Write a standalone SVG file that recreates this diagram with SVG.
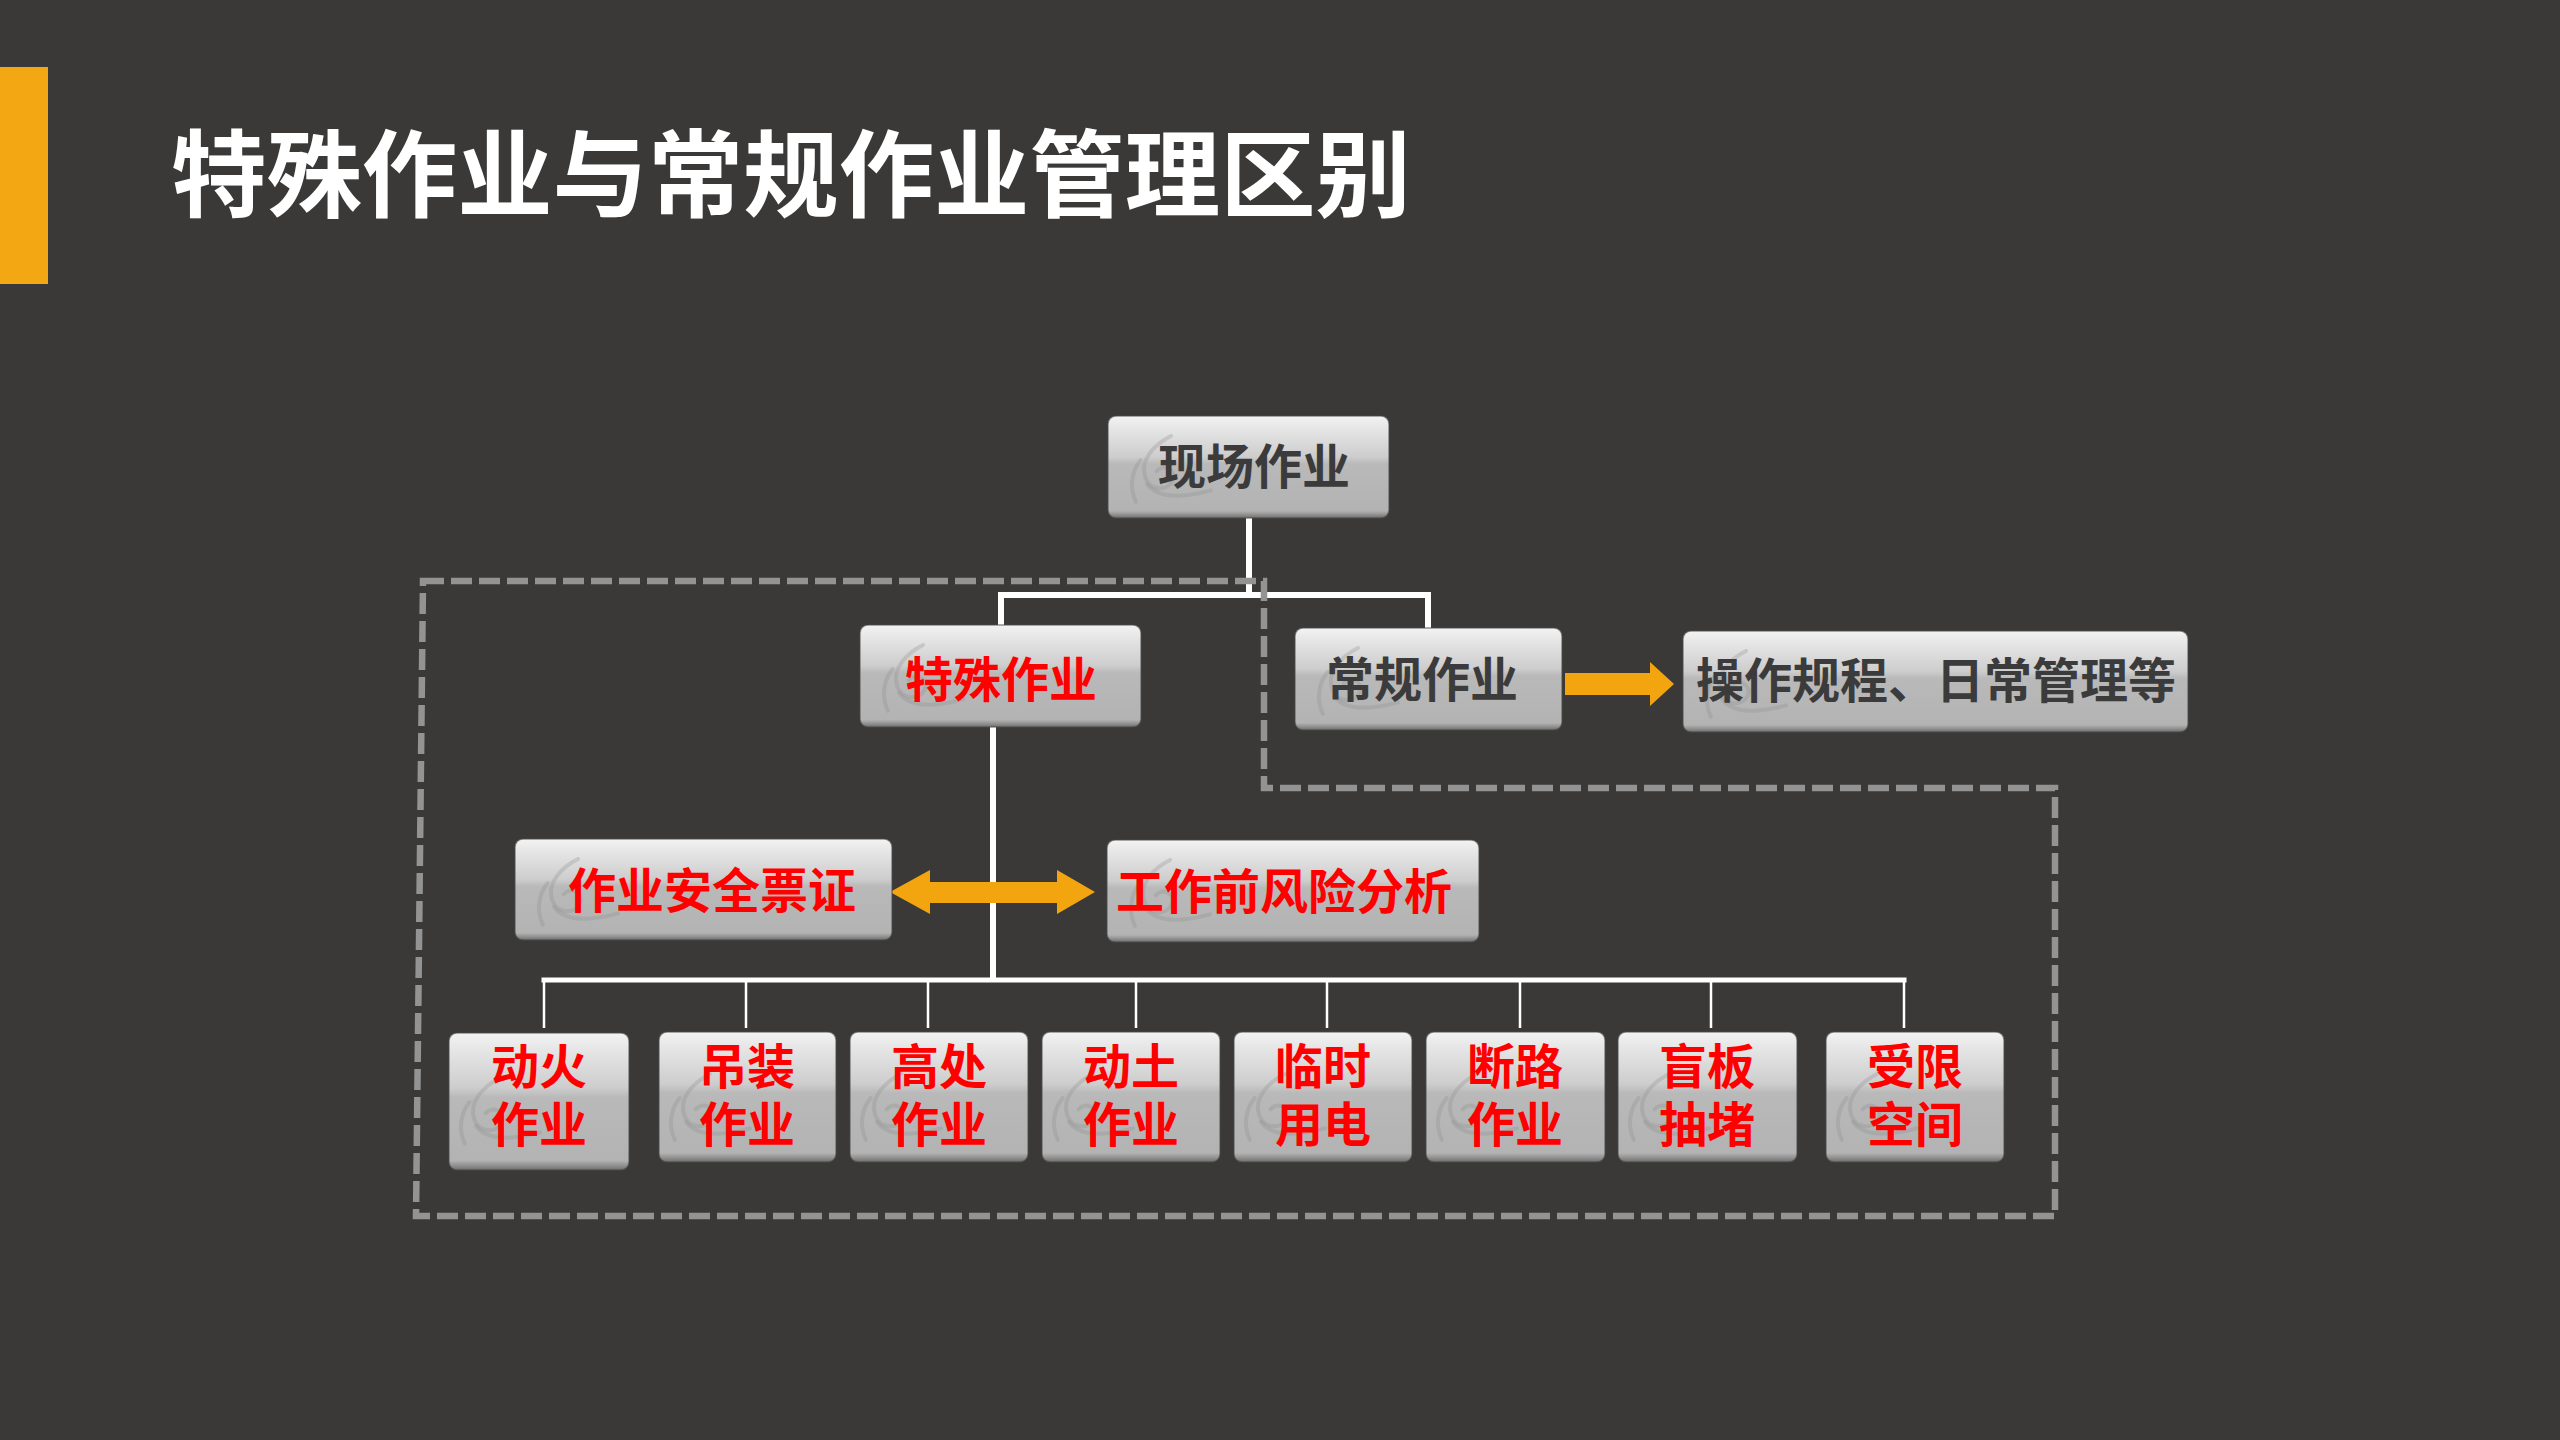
<svg xmlns="http://www.w3.org/2000/svg" width="2560" height="1440" viewBox="0 0 2560 1440">
<style>
.box{fill:url(#boxg);stroke:#4a4a4a;stroke-width:1.5;stroke-opacity:0.6}
.t{font-family:"Noto Sans CJK SC","Noto Sans",sans-serif;font-weight:700;font-size:48px;text-anchor:middle}
.dk{fill:#3b3b3b}
.rd{fill:#ff0000}
.wl{fill:none;stroke:#ffffff;stroke-linejoin:miter}
.arr{fill:#f3a50f}
.sw{fill:none;stroke:#8e8e8e;stroke-opacity:0.3;stroke-width:5;stroke-linecap:round}
</style>
<defs>
<linearGradient id="boxg" x1="0" y1="0" x2="0" y2="1">
<stop offset="0" stop-color="#f3f3f3"/>
<stop offset="0.1" stop-color="#e8e8e8"/>
<stop offset="0.4" stop-color="#cdcdcd"/>
<stop offset="0.47" stop-color="#b9b9b9"/>
<stop offset="0.93" stop-color="#b3b3b3"/>
<stop offset="0.97" stop-color="#8e8e8e"/>
<stop offset="1" stop-color="#6e6e6e"/>
</linearGradient>
<symbol id="swirl" viewBox="0 0 100 100" overflow="visible">
<path class="sw" d="M60,10 C40,20 20,40 28,62 C34,78 55,80 62,66 C68,52 50,44 42,54"/>
<path class="sw" d="M30,70 C45,90 80,86 110,78"/>
<path class="sw" d="M22,40 C10,55 8,75 16,92"/>
</symbol>
</defs>
<rect x="0" y="0" width="2560" height="1440" fill="#3a3938"/>
<rect x="0" y="67" width="48" height="217" fill="#f3a712"/>
<text x="171" y="210" font-family="'Noto Sans CJK SC','Noto Sans',sans-serif" font-size="95" font-weight="700" fill="#ffffff" textLength="1240" lengthAdjust="spacingAndGlyphs">特殊作业与常规作业管理区别</text>

<g id="connectors">
<path class="wl" stroke-width="6" d="M1249,518 V595 M1001,625 V595 H1428 V628"/>
<path class="wl" stroke-width="6" d="M993,727 V980"/>
<path class="wl" stroke-width="5" d="M541.5,980 H1906.5"/>
<path class="wl" stroke-width="2.5" d="M544,980 V1028 M746,980 V1028 M928,980 V1028 M1136,980 V1028 M1327,980 V1028 M1520,980 V1028 M1711,980 V1028 M1904,980 V1028"/>
<polygon class="arr" points="890,892 930,870 930,882 1057,882 1057,870 1095,892 1057,914 1057,903 930,903 930,914"/>
<polygon class="arr" points="1565,673 1650,673 1650,662 1674,684 1650,706 1650,695 1565,695"/>
</g>

<g id="boundary">
<path d="M423,581 H1264 V788 H2055 V1216 H416 Z" fill="none" stroke="#939393" stroke-width="6.5" stroke-dasharray="21 7"/>
</g>

<g id="n-root">
<rect class="box" x="1108" y="416" width="281" height="102" rx="8"/>
<use href="#swirl" x="1118" y="428" width="90" height="80"/>
<text class="t dk" x="1254" y="484">现场作业</text>
</g>
<g id="n-special">
<rect class="box" x="860" y="625" width="281" height="102" rx="8"/>
<use href="#swirl" x="870" y="637" width="90" height="80"/>
<text class="t rd" x="1001" y="697">特殊作业</text>
</g>
<g id="n-routine">
<rect class="box" x="1295" y="628" width="267" height="102" rx="8"/>
<use href="#swirl" x="1305" y="640" width="90" height="80"/>
<text class="t dk" x="1422" y="697">常规作业</text>
</g>
<g id="n-ops">
<rect class="box" x="1683" y="631" width="505" height="101" rx="8"/>
<use href="#swirl" x="1693" y="643" width="90" height="80"/>
<text class="t dk" x="1936" y="698">操作规程、日常管理等</text>
</g>
<g id="n-ticket">
<rect class="box" x="515" y="839" width="377" height="101" rx="8"/>
<use href="#swirl" x="525" y="851" width="90" height="80"/>
<text class="t rd" x="712" y="908">作业安全票证</text>
</g>
<g id="n-risk">
<rect class="box" x="1107" y="840" width="372" height="102" rx="8"/>
<use href="#swirl" x="1117" y="852" width="90" height="80"/>
<text class="t rd" x="1284" y="909">工作前风险分析</text>
</g>

<g id="n-b1">
<rect class="box" x="449" y="1033" width="180" height="137" rx="8"/>
<use href="#swirl" x="452" y="1060" width="80" height="100"/>
<text class="t rd" x="539" y="1084">动火<tspan x="539" dy="58">作业</tspan></text>
</g>
<g id="n-b2">
<rect class="box" x="659" y="1032" width="177" height="130" rx="8"/>
<use href="#swirl" x="662" y="1056" width="80" height="100"/>
<text class="t rd" x="747" y="1084">吊装<tspan x="747" dy="58">作业</tspan></text>
</g>
<g id="n-b3">
<rect class="box" x="850" y="1032" width="178" height="130" rx="8"/>
<use href="#swirl" x="853" y="1056" width="80" height="100"/>
<text class="t rd" x="939" y="1084">高处<tspan x="939" dy="58">作业</tspan></text>
</g>
<g id="n-b4">
<rect class="box" x="1042" y="1032" width="178" height="130" rx="8"/>
<use href="#swirl" x="1045" y="1056" width="80" height="100"/>
<text class="t rd" x="1131" y="1084">动土<tspan x="1131" dy="58">作业</tspan></text>
</g>
<g id="n-b5">
<rect class="box" x="1234" y="1032" width="178" height="130" rx="8"/>
<use href="#swirl" x="1237" y="1056" width="80" height="100"/>
<text class="t rd" x="1323" y="1084">临时<tspan x="1323" dy="58">用电</tspan></text>
</g>
<g id="n-b6">
<rect class="box" x="1426" y="1032" width="179" height="130" rx="8"/>
<use href="#swirl" x="1429" y="1056" width="80" height="100"/>
<text class="t rd" x="1515" y="1084">断路<tspan x="1515" dy="58">作业</tspan></text>
</g>
<g id="n-b7">
<rect class="box" x="1618" y="1032" width="179" height="130" rx="8"/>
<use href="#swirl" x="1621" y="1056" width="80" height="100"/>
<text class="t rd" x="1707" y="1084">盲板<tspan x="1707" dy="58">抽堵</tspan></text>
</g>
<g id="n-b8">
<rect class="box" x="1826" y="1032" width="178" height="130" rx="8"/>
<use href="#swirl" x="1829" y="1056" width="80" height="100"/>
<text class="t rd" x="1915" y="1084">受限<tspan x="1915" dy="58">空间</tspan></text>
</g>
</svg>
